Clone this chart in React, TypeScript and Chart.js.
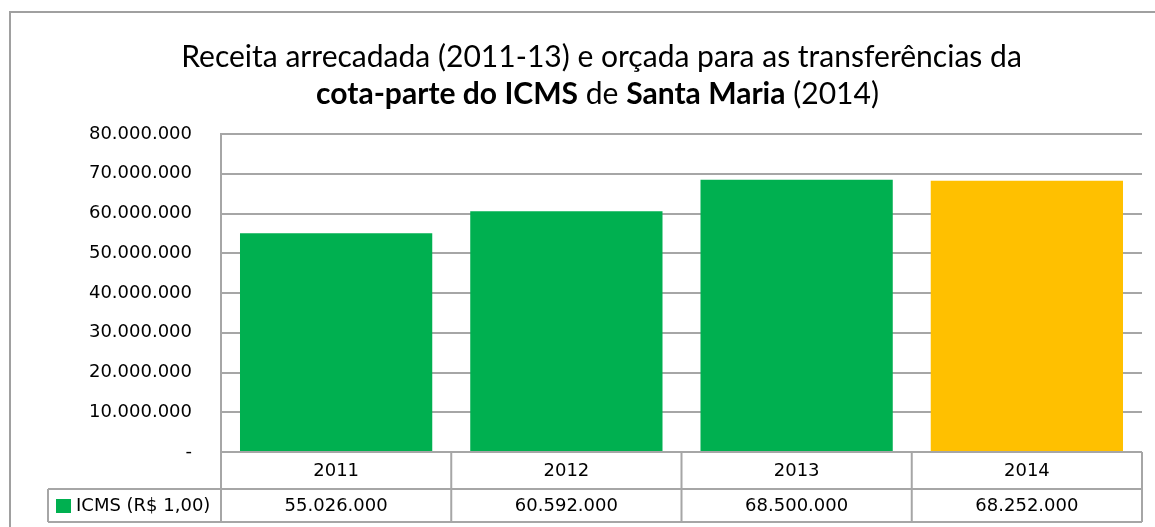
import React, { useEffect, useRef } from "react";
import { Chart, registerables } from "chart.js";

Chart.register(...registerables);

const categories = ["2011", "2012", "2013", "2014"];
const icmsValues = [55026000, 60592000, 68500000, 68252000];
const seriesLabel = "ICMS (R$ 1,00)";
const titleLine1 = "Receita arrecadada (2011-13) e orçada para as transferências da";
const titleLine2: [string, boolean][] = [
  ["cota-parte do ICMS", true],
  [" de ", false],
  ["Santa Maria", true],
  [" (2014)", false],
];
const yMax = 80000000;
const yStep = 10000000;

const GREEN = "#00B050";
const YELLOW = "#FFC000";
const GRID = "#a6a6a6";
const TEXT = "#000000";
const NUM_FONT = "DejaVu Sans";
const TITLE_FONT = "Lato";

const fmt = (n: number) =>
  n === 0 ? "-" : String(Math.round(n)).replace(/\B(?=(\d{3})+(?!\d))/g, ".");

const W = 1155;
const H = 527;

const decorPlugin = {
  id: "decor",
  beforeDraw(chart: any) {
    const ctx = chart.ctx;
    ctx.save();
    ctx.fillStyle = "#fff";
    ctx.fillRect(0, 0, W, H);
    ctx.strokeStyle = "#a0a0a0";
    ctx.lineWidth = 2;
    ctx.strokeRect(10, 12, W + 20, H + 20);
    ctx.restore();
  },
  afterDraw(chart: any) {
    const ctx = chart.ctx;
    const area = chart.chartArea;
    const n = categories.length;
    const cw = (area.right - area.left) / n;
    ctx.save();
    // Title
    ctx.fillStyle = "#000";
    ctx.textBaseline = "alphabetic";
    ctx.textAlign = "left";
    let size = 100;
    ctx.font = `${size}px ${TITLE_FONT}`;
    const w100 = ctx.measureText(titleLine1).width;
    size = (100 * 841) / w100;
    ctx.font = `${size}px ${TITLE_FONT}`;
    const w1 = ctx.measureText(titleLine1).width;
    ctx.fillText(titleLine1, 601.5 - w1 / 2, 67);
    let total = 0;
    const widths = titleLine2.map(([t, b]) => {
      ctx.font = `${b ? "bold " : ""}${size}px ${TITLE_FONT}`;
      const w = ctx.measureText(t).width;
      total += w;
      return w;
    });
    let x = 597.5 - total / 2;
    titleLine2.forEach(([t, b], i) => {
      ctx.font = `${b ? "bold " : ""}${size}px ${TITLE_FONT}`;
      ctx.fillText(t, x, 103.5);
      x += widths[i];
    });

    // Data table
    const top = area.bottom;
    const mid = 489;
    const bot = 522;
    const legLeft = 48;
    ctx.strokeStyle = GRID;
    ctx.lineWidth = 2;
    ctx.beginPath();
    ctx.moveTo(area.left, top);
    ctx.lineTo(area.right, top);
    ctx.moveTo(legLeft, mid);
    ctx.lineTo(area.right, mid);
    ctx.moveTo(legLeft, bot);
    ctx.lineTo(area.right, bot);
    ctx.moveTo(legLeft, mid);
    ctx.lineTo(legLeft, bot);
    for (let i = 0; i <= n; i++) {
      const xx = area.left + i * cw;
      ctx.moveTo(xx, top);
      ctx.lineTo(xx, bot);
    }
    ctx.stroke();

    ctx.fillStyle = TEXT;
    ctx.font = `18px ${NUM_FONT}`;
    ctx.textAlign = "center";
    ctx.textBaseline = "middle";
    const xs = chart.scales.x;
    categories.forEach((c, i) => {
      const cx = xs.getPixelForValue(i);
      ctx.fillText(c, cx, (top + mid) / 2 + 1);
      ctx.fillText(fmt(icmsValues[i]), cx, (mid + bot) / 2 + 1);
    });
    ctx.fillStyle = GREEN;
    ctx.fillRect(56, 499, 15, 14);
    ctx.fillStyle = TEXT;
    ctx.textAlign = "left";
    ctx.fillText(seriesLabel, 76, (mid + bot) / 2 + 1);
    ctx.restore();
  },
};

export default function App() {
  const ref = useRef<HTMLCanvasElement>(null);
  useEffect(() => {
    document.body.style.margin = "0";
    const chart = new Chart(ref.current!, {
      type: "bar",
      data: {
        labels: categories,
        datasets: [
          {
            label: seriesLabel,
            data: icmsValues,
            backgroundColor: categories.map((_, i) => (i === categories.length - 1 ? YELLOW : GREEN)),
            barPercentage: 0.835,
            categoryPercentage: 1,
          },
        ],
      },
      options: {
        responsive: false,
        animation: false,
        layout: { padding: { top: 134, left: 0, right: 13, bottom: 75 } },
        plugins: { legend: { display: false }, title: { display: false }, tooltip: { enabled: false } },
        scales: {
          x: { display: false },
          y: {
            min: 0,
            max: yMax,
            ticks: {
              stepSize: yStep,
              padding: 29,
              color: TEXT,
              font: { family: NUM_FONT, size: 18 },
              callback: (v: any) => fmt(Number(v)),
            },
            grid: { color: GRID, lineWidth: 2, drawTicks: false },
            border: { display: true, color: GRID, width: 2 },
            afterFit: (s: any) => {
              s.width = 221;
            },
          },
        },
      },
      plugins: [decorPlugin],
    });
    return () => chart.destroy();
  }, []);
  return (
    <div style={{ position: "fixed", left: 0, top: 0, width: W, height: H }}>
      <canvas ref={ref} width={W} height={H} style={{ width: W, height: H, display: "block" }} />
    </div>
  );
}
